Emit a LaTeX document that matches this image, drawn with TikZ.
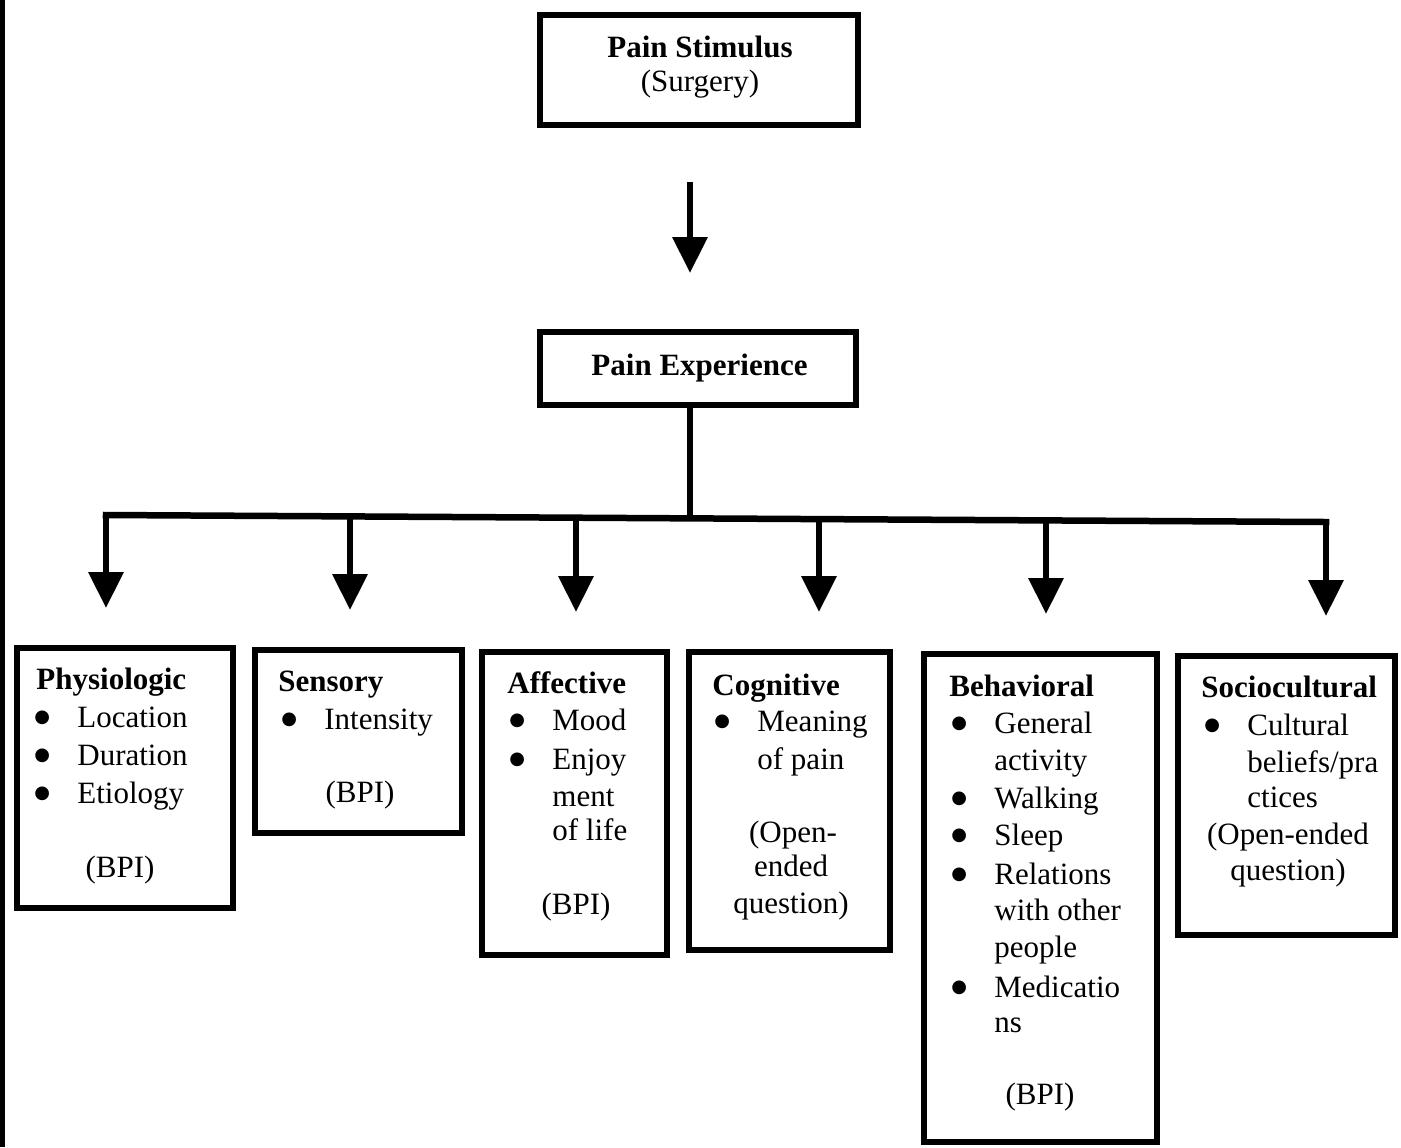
\documentclass[tikz,border=0pt]{standalone}
\usepackage{fontspec}
\setmainfont{Liberation Serif}
\newfontfamily\symfont{DejaVu Sans}
\usetikzlibrary{arrows.meta}
\newcommand\bulitem{\makebox[21.5pt][l]{\raisebox{2.2pt}{\symfont\fontsize{9pt}{10pt}\selectfont ●}}}
\begin{document}
\begin{tikzpicture}[x=0.5pt,y=-0.5pt,
  box/.style={draw, line width=3pt, inner sep=0pt, outer sep=0pt},
  txt/.style={anchor=base west, inner sep=0pt, font=\fontsize{15.5pt}{18pt}\selectfont},
  ctxt/.style={anchor=base, inner sep=0pt, font=\fontsize{15.5pt}{18pt}\selectfont},
  conn/.style={line width=3.25pt},
  arr/.style={line width=3.25pt, -{Triangle[width=17pt,length=18pt]}}]
\useasboundingbox (0,0) rectangle (1401,1147);
\fill (0,0) rectangle (5,1147);
% boxes
\node[box, minimum width=159pt, minimum height=55pt] (stim) at (699,70) {};
\node[box, minimum width=158pt, minimum height=36.5pt] (exp) at (698,368.5) {};
\node[box, minimum width=108pt, minimum height=130pt] (phys) at (125,778) {};
\node[box, minimum width=103.5pt, minimum height=91.5pt] (sens) at (358.5,741.5) {};
\node[box, minimum width=92.5pt, minimum height=151.5pt] (aff) at (574.5,803.5) {};
\node[box, minimum width=100.5pt, minimum height=149pt] (cog) at (789.5,801) {};
\node[box, minimum width=116.5pt, minimum height=244pt] (beh) at (1040.5,898) {};
\node[box, minimum width=108.5pt, minimum height=139.5pt] (soc) at (1286.5,795.5) {};
% top texts
\node[ctxt] (t1) at (700,57) {\textbf{Pain Stimulus}};
\node[ctxt] (t2) at (700,91) {(Surgery)};
\node[ctxt] (t3) at (699.5,375) {\textbf{Pain Experience}};
% connectors
\coordinate (ax) at (690,0);
\draw[arr, shorten <=28.5pt, shorten >=29.5pt] (stim.south -| ax) -- (exp.north -| ax);
\coordinate (b1) at (106,515);
\coordinate (b2) at (350,516.4);
\coordinate (b3) at (576,517.7);
\coordinate (b4) at (819,519.1);
\coordinate (b5) at (1046,520.4);
\coordinate (b6) at (1326,522);
\coordinate (bs) at (690,518.4);
\draw[conn] (exp.south -| bs) -- (bs);
\draw[conn, line cap=rect] (b1) -- (b6);
\draw[arr, shorten >=20pt] (b1) -- (b1 |- phys.north);
\draw[arr, shorten >=20pt] (b2) -- (b2 |- sens.north);
\draw[arr, shorten >=20pt] (b3) -- (b3 |- aff.north);
\draw[arr, shorten >=20pt] (b4) -- (b4 |- cog.north);
\draw[arr, shorten >=20pt] (b5) -- (b5 |- beh.north);
\draw[arr, shorten >=20pt] (b6) -- (b6 |- soc.north);
% Physiologic
\node[txt] (p0) at (36,689) {\textbf{Physiologic}};
\node[txt] (p1) at (34,727) {\bulitem Location};
\node[txt] (p2) at (34,765) {\bulitem Duration};
\node[txt] (p3) at (34,803) {\bulitem Etiology};
\node[ctxt] (p4) at (120,877) {(BPI)};
% Sensory
\node[txt] (s0) at (278,691) {\textbf{Sensory}};
\node[txt] (s1) at (281,729) {\bulitem Intensity};
\node[ctxt] (s2) at (360,802) {(BPI)};
% Affective
\node[txt] (a0) at (507,693) {\textbf{Affective}};
\node[txt] (a1) at (509,730) {\bulitem Mood};
\node[txt] (a2) at (509,769) {\bulitem Enjoy};
\node[txt] (a3) at (552,806) {ment};
\node[txt] (a4) at (552,840) {of life};
\node[ctxt] (a5) at (576,914) {(BPI)};
% Cognitive
\node[txt] (c0) at (712,695) {\textbf{Cognitive}};
\node[txt] (c1) at (714,731) {\bulitem Meaning};
\node[txt] (c2) at (757,769) {of pain};
\node[ctxt] (c3) at (793,842) {(Open-};
\node[ctxt] (c4) at (791,876) {ended};
\node[ctxt] (c5) at (791,913) {question)};
% Behavioral
\node[txt] (h0) at (949,696) {\textbf{Behavioral}};
\node[txt] (h1) at (951,733) {\bulitem General};
\node[txt] (h2) at (994,770) {activity};
\node[txt] (h3) at (951,808) {\bulitem Walking};
\node[txt] (h4) at (951,845) {\bulitem Sleep};
\node[txt] (h5) at (951,884) {\bulitem Relations};
\node[txt] (h6) at (994,920) {with other};
\node[txt] (h7) at (994,957) {people};
\node[txt] (h8) at (951,997) {\bulitem Medicatio};
\node[txt] (h9) at (994,1032) {ns};
\node[ctxt] (h10) at (1040,1104) {(BPI)};
% Sociocultural
\node[txt] (o0) at (1201,697) {\textbf{Sociocultural}};
\node[txt] (o1) at (1204,735) {\bulitem Cultural};
\node[txt] (o2) at (1247,772) {beliefs/pra};
\node[txt] (o3) at (1247,807) {ctices};
\node[ctxt] (o4) at (1288,844) {(Open-ended};
\node[ctxt] (o5) at (1288,880) {question)};
\end{tikzpicture}
\end{document}
